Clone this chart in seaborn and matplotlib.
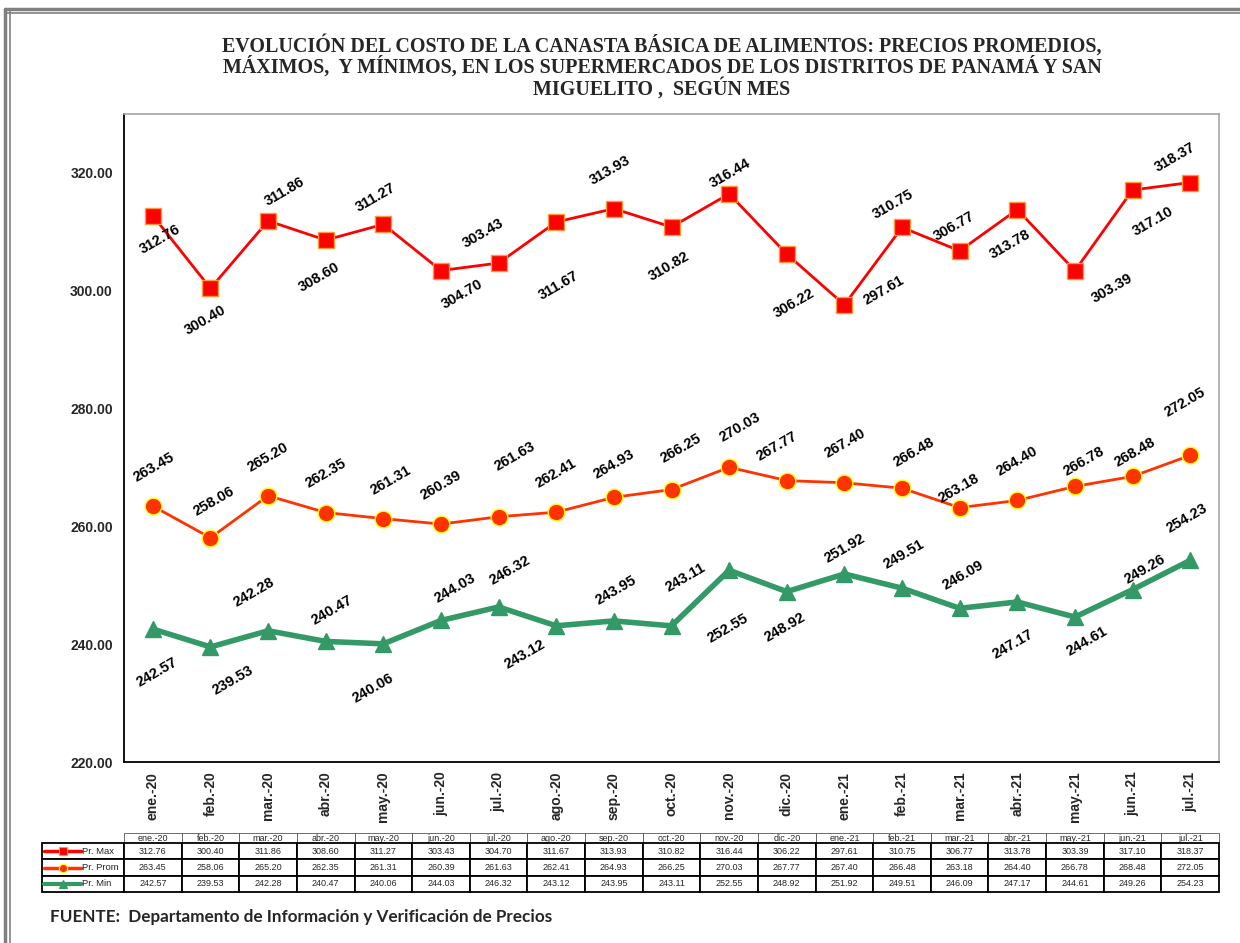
import matplotlib
matplotlib.use('Agg')
import matplotlib.pyplot as plt
from matplotlib.lines import Line2D
import seaborn as sns
import pandas as pd

months = ['ene.-20', 'feb.-20', 'mar.-20', 'abr.-20', 'may.-20', 'jun.-20', 'jul.-20',
          'ago.-20', 'sep.-20', 'oct.-20', 'nov.-20', 'dic.-20', 'ene.-21', 'feb.-21',
          'mar.-21', 'abr.-21', 'may.-21', 'jun.-21', 'jul.-21']
pr_max = [312.76, 300.40, 311.86, 308.60, 311.27, 303.43, 304.70, 311.67, 313.93, 310.82,
          316.44, 306.22, 297.61, 310.75, 306.77, 313.78, 303.39, 317.10, 318.37]
pr_prom = [263.45, 258.06, 265.20, 262.35, 261.31, 260.39, 261.63, 262.41, 264.93, 266.25,
           270.03, 267.77, 267.40, 266.48, 263.18, 264.40, 266.78, 268.48, 272.05]
pr_min = [242.57, 239.53, 242.28, 240.47, 240.06, 244.03, 246.32, 243.12, 243.95, 243.11,
          252.55, 248.92, 251.92, 249.51, 246.09, 247.17, 244.61, 249.26, 254.23]
series_names = ['Pr. Max', 'Pr. Prom', 'Pr. Min']

# where each data label sits relative to its point (pixels, right / down)
off_max = [(7, 24), (-5, 32), (17, -29), (-7, 37), (-8, -27), (42, -37), (-36, 31),
           (2, 64), (-4, -38), (-2, 39), (1, -21), (7, 49), (39, -14), (-9, -23),
           (-6, -25), (-7, 35), (37, 18), (20, 31), (-15, -25)]
off_prom = [(1, -39), (3, -36), (0, -38), (0, -39), (7, -38), (0, -39), (16, -60),
            (0, -39), (0, -33), (9, -41), (11, -40), (-10, -34), (1, -39), (12, -36),
            (-1, -19), (0, -39), (9, -25), (2, -24), (-5, -53)]
off_min = [(4, 43), (22, 33), (-14, -38), (6, -31), (-10, 44), (14, -32), (11, -37),
           (-31, 29), (2, -31), (14, -48), (-1, 58), (-2, 36), (0, -26), (2, -34),
           (3, -33), (-4, 42), (12, 24), (12, -20), (-3, -42)]

df = pd.DataFrame({'mes': months, 'Pr. Max': pr_max, 'Pr. Prom': pr_prom, 'Pr. Min': pr_min})

sns.set_style('white')
plt.rcParams['font.family'] = ['Liberation Sans', 'DejaVu Sans']

W, H = 1240, 943
fig = plt.figure(figsize=(W / 100, H / 100), dpi=100)
ax = fig.add_axes([124 / W, 1 - 762 / H, (1219 - 124) / W, (762 - 114) / H])

styles = {
    'Pr. Max': dict(color='#FF0000', lw=2, marker='s', ms=12, mfc='#FF0000', mec='#FF9933', mew=1),
    'Pr. Prom': dict(color='#FF3300', lw=2, marker='o', ms=12, mfc='#FF3300', mec='#FFFF00', mew=1),
    'Pr. Min': dict(color='#339966', lw=4, marker='^', ms=11, mfc='#339966', mec='#339966', mew=1),
}
for name in series_names:
    st = styles[name]
    sns.lineplot(data=df, x='mes', y=name, ax=ax, sort=False, color=st['color'],
                 linewidth=st['lw'], marker=st['marker'], markersize=st['ms'],
                 markerfacecolor=st['mfc'], markeredgecolor=st['mec'],
                 markeredgewidth=st['mew'], zorder=3)

for vals, offs in [(pr_max, off_max), (pr_prom, off_prom), (pr_min, off_min)]:
    for i, (v, (dx, dy)) in enumerate(zip(vals, offs)):
        ax.annotate(f'{v:.2f}', xy=(i, v), xytext=(dx, -dy), textcoords='offset pixels',
                    rotation=30, ha='center', va='center', fontsize=10.5,
                    fontweight='bold', color='black', zorder=5)

ax.set_xlim(-0.5, len(months) - 0.5)
ax.set_ylim(220, 330)
ax.set_yticks(range(220, 321, 20))
ax.set_yticklabels([f'{t:.2f}' for t in range(220, 321, 20)], fontsize=10, fontweight='bold')
ax.set_xticks(range(len(months)))
ax.set_xticklabels(months, rotation=90, fontsize=10, fontweight='bold')
ax.set_xticks([i - 0.5 for i in range(len(months) + 1)], minor=True)
ax.tick_params(axis='x', which='major', length=0, pad=7)
ax.tick_params(axis='x', which='minor', length=5, width=1, direction='out', color='black')
ax.tick_params(axis='y', length=5, width=1, direction='out', color='black', pad=3)
ax.set_xlabel('')
ax.set_ylabel('')
for s in ['left', 'bottom']:
    ax.spines[s].set_color('black')
    ax.spines[s].set_linewidth(1.3)
for s in ['top', 'right']:
    ax.spines[s].set_color('#a6a6a6')
    ax.spines[s].set_linewidth(1.2)

# data table under the chart (first column holds the legend keys)
tax = fig.add_axes([42 / W, 1 - 892 / H, (1219 - 42) / W, (892 - 833) / H])
tax.axis('off')
cell_text = [[''] + [f'{v:.2f}' for v in row] for row in [pr_max, pr_prom, pr_min]]
tbl = tax.table(cellText=cell_text, colLabels=[''] + months, cellLoc='center', bbox=[0, 0, 1, 1])
tbl.auto_set_font_size(False)
lab_w = 82 / 1177
col_w = (1 - lab_w) / len(months)
hdr_h, row_h = 0.17, 0.83 / 3
for (r, c), cell in tbl.get_celld().items():
    cell.set_width(lab_w if c == 0 else col_w)
    cell.set_height(hdr_h if r == 0 else row_h)
    cell.get_text().set_fontsize(6.5)
    if r == 0:
        cell.set_edgecolor('#555555')
        cell.set_linewidth(0.6)
        if c == 0:
            cell.set_visible(False)
    else:
        cell.set_edgecolor('black')
        cell.set_linewidth(1.3)

for k, name in enumerate(series_names):
    st = styles[name]
    yc = 1 - hdr_h - row_h * (k + 0.5)
    tax.add_line(Line2D([0.002, 0.033], [yc, yc], transform=tax.transAxes, color=st['color'],
                        lw=2.5 if k < 2 else 3, zorder=5))
    tax.add_line(Line2D([0.0175], [yc], transform=tax.transAxes, marker=st['marker'],
                        ms=6, mfc=st['mfc'], mec=st['mec'], mew=0.8, zorder=6))
    tax.text(0.034, yc, name, transform=tax.transAxes, ha='left', va='center',
             fontsize=6.8, zorder=6)

title = ('EVOLUCIÓN DEL COSTO DE LA CANASTA BÁSICA DE ALIMENTOS: PRECIOS PROMEDIOS,\n'
         'MÁXIMOS,  Y MÍNIMOS, EN LOS SUPERMERCADOS DE LOS DISTRITOS DE PANAMÁ Y SAN\n'
         'MIGUELITO ,  SEGÚN MES')
fig.text(662 / W, 1 - 35 / H, title, ha='center', va='top', fontsize=14.4,
         fontweight='bold', family=['Liberation Serif'], linespacing=0.97)

fig.text(50 / W, 1 - 917 / H, 'FUENTE:  Departamento de Información y Verificación de Precios',
         ha='left', va='center', fontsize=12.3, fontweight='bold', family=['Lato'])

# outer double frame (left and top edges)
for x, lw in [(5, 2.5), (9.5, 1.2)]:
    fig.add_artist(Line2D([x / W, x / W], [0, 1 - 9 / H], transform=fig.transFigure,
                          color='#808080', lw=lw))
for y, lw in [(9, 2.5), (13, 1.2)]:
    fig.add_artist(Line2D([5 / W, 1], [1 - y / H, 1 - y / H], transform=fig.transFigure,
                          color='#808080', lw=lw))

fig.savefig('out.png', dpi=100)
